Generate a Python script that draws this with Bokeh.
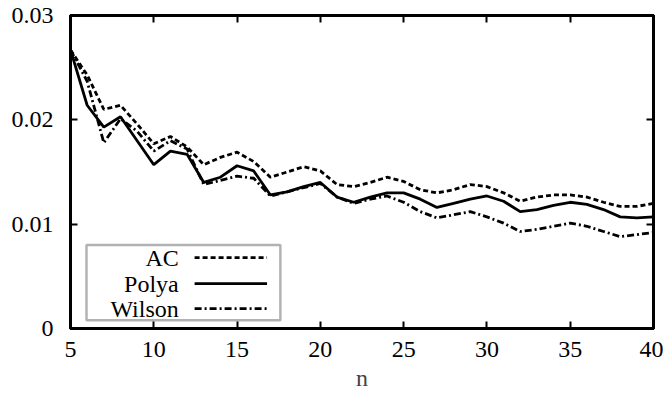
from bokeh.plotting import figure
from bokeh.models import (Range1d, FixedTicker, LinearAxis, BoxAnnotation, Label,
                          Arrow, ColumnDataSource)
from bokeh.embed import file_html
from bokeh.resources import INLINE

n = list(range(5, 41))
ac = [0.0267, 0.0243, 0.0210, 0.0214, 0.0196, 0.0177, 0.0184, 0.0174, 0.0157, 0.0164,
      0.0169, 0.0160, 0.0145, 0.0150, 0.0155, 0.0151, 0.0138, 0.0136, 0.0140, 0.0145,
      0.0141, 0.0133, 0.0130, 0.0133, 0.0138, 0.0136, 0.0130, 0.0122, 0.0126, 0.0128,
      0.0128, 0.0126, 0.0121, 0.0117, 0.0117, 0.0120]
polya = [0.0267, 0.0214, 0.0193, 0.0203, 0.0180, 0.0157, 0.0170, 0.0167, 0.0140, 0.0145,
         0.0156, 0.0151, 0.0128, 0.0131, 0.0136, 0.0140, 0.0126, 0.0121, 0.0126, 0.0130,
         0.0130, 0.0124, 0.0116, 0.0120, 0.0124, 0.0127, 0.0122, 0.0112, 0.0114, 0.0118,
         0.0121, 0.0119, 0.0114, 0.0107, 0.0106, 0.0107]
wilson = [0.0267, 0.0237, 0.0178, 0.0201, 0.0189, 0.0170, 0.0180, 0.0172, 0.0138, 0.0142,
          0.0146, 0.0144, 0.0127, 0.0131, 0.0135, 0.0139, 0.0126, 0.0120, 0.0124, 0.0127,
          0.0121, 0.0112, 0.0106, 0.0109, 0.0112, 0.0107, 0.0101, 0.0093, 0.0095, 0.0098,
          0.0101, 0.0098, 0.0093, 0.0088, 0.0090, 0.0092]

x_ticks = [5, 10, 15, 20, 25, 30, 35, 40]
y_ticks = [0, 0.01, 0.02, 0.03]
y_tick_labels = ["0", "0.01", "0.02", "0.03"]
series_names = ["AC", "Polya", "Wilson"]

FONT = "Liberation Serif"
FS = "24px"

p = figure(width=663, height=400, output_backend="svg", toolbar_location=None,
           x_range=Range1d(5, 40), y_range=Range1d(0, 0.03),
           min_border_left=70, min_border_right=10, min_border_top=15, min_border_bottom=72)
p.grid.visible = False
p.outline_line_color = "black"
p.outline_line_width = 3
p.background_fill_color = "white"
p.border_fill_color = "white"

for ax in (p.xaxis[0], p.yaxis[0]):
    ax.major_tick_in = 7
    ax.major_tick_out = 0
    ax.minor_tick_line_color = None
    ax.axis_line_width = 3
    ax.major_tick_line_width = 2
    ax.major_label_text_font = FONT
    ax.major_label_text_font_size = FS
    ax.major_label_text_color = "black"

p.xaxis[0].ticker = FixedTicker(ticks=x_ticks)
p.yaxis[0].ticker = FixedTicker(ticks=y_ticks)
p.yaxis[0].major_label_overrides = {t: s for t, s in zip(y_ticks, y_tick_labels)}
p.xaxis[0].major_label_standoff = 13
p.yaxis[0].major_label_standoff = 17
p.xaxis[0].axis_label = "n"
p.xaxis[0].axis_label_text_font = FONT
p.xaxis[0].axis_label_text_font_style = "normal"
p.xaxis[0].axis_label_text_font_size = FS
p.xaxis[0].axis_label_standoff = 5

top = LinearAxis(ticker=FixedTicker(ticks=x_ticks), major_label_text_font_size="0px",
                 major_tick_in=7, major_tick_out=0, minor_tick_line_color=None,
                 axis_line_width=3, major_tick_line_width=2, major_label_standoff=0)
right = LinearAxis(ticker=FixedTicker(ticks=y_ticks), major_label_text_font_size="0px",
                   major_tick_in=7, major_tick_out=0, minor_tick_line_color=None,
                   axis_line_width=3, major_tick_line_width=2, major_label_standoff=0)
p.add_layout(top, "above")
p.add_layout(right, "right")

src = ColumnDataSource(dict(n=n, ac=ac, polya=polya, wilson=wilson))
styles = {"AC": ("ac", "5 3"), "Polya": ("polya", "solid"), "Wilson": ("wilson", "7 3 2 3")}
for name in series_names:
    col, dash = styles[name]
    p.line("n", col, source=src, line_color="black", line_width=2.8, line_dash=dash)

# legend: label text on the left, line sample on the right (data units)
box = BoxAnnotation(left=5.96, right=17.6, bottom=0.0008, top=0.0080,
                    fill_color="white", fill_alpha=1.0, line_color="black", line_width=2.5)
p.add_layout(box)
leg_y = [0.0068, 0.0043, 0.0019]
for name, yy in zip(series_names, leg_y):
    col, dash = styles[name]
    p.add_layout(Label(x=11.5, y=yy, text=name, text_align="right", text_baseline="middle",
                       text_font=FONT, text_font_size=FS, text_color="black"))
    p.add_layout(Arrow(x_start=12.45, y_start=yy, x_end=16.8, y_end=yy, end=None,
                       line_color="black", line_width=2.8, line_dash=dash))

open("out.html", "w").write(file_html(p, INLINE))
